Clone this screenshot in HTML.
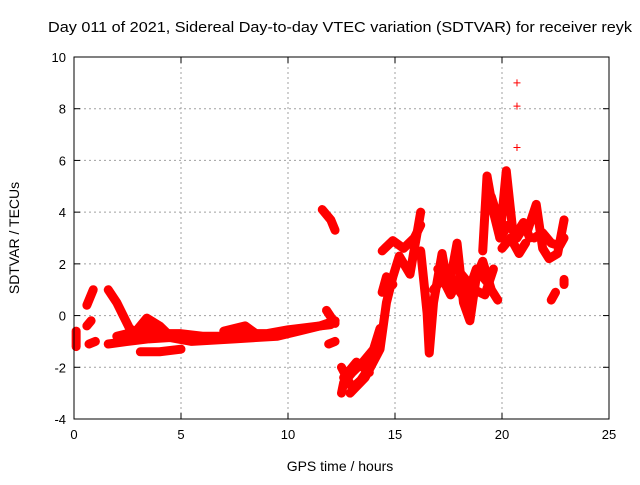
<!DOCTYPE html>
<html><head><meta charset="utf-8"><style>
body{margin:0;background:#fff}
svg text{font-family:"Liberation Sans",sans-serif;fill:#000}
</style></head><body>
<svg id="c" width="640" height="480" xmlns="http://www.w3.org/2000/svg">
<rect width="640" height="480" fill="#fff"/>
<text x="340" y="32" font-size="14.5" text-anchor="middle" textLength="584" lengthAdjust="spacingAndGlyphs">Day 011 of 2021, Sidereal Day-to-day VTEC variation (SDTVAR) for receiver reyk</text>
<text x="340" y="471" font-size="14" text-anchor="middle">GPS time / hours</text>
<text transform="translate(19,238) rotate(-90)" font-size="14" text-anchor="middle">SDTVAR / TECUs</text>
<g id="grid"></g><g id="marks"></g>
<rect x="74" y="57" width="535" height="362" fill="none" stroke="#000" stroke-width="1"/>
</svg>
<script>
const xTicks=[0,5,10,15,20,25];
const yTicks=[-4,-2,0,2,4,6,8,10];
const tracks=[
 {x:[1.6,2.5,3.5,4.5,5.5,6.5,7.5,8.5,9.5,10.5,11.5,12.2],y:[-1.1,-1.0,-0.9,-0.85,-1.0,-0.95,-0.9,-0.85,-0.8,-0.6,-0.4,-0.2]},
 {x:[2.0,3.0,4.0,5.0,6.0,7.0,8.0,9.0,10.0,11.0,12.0],y:[-0.8,-0.6,-0.7,-0.7,-0.8,-0.8,-0.7,-0.7,-0.55,-0.45,-0.35]},
 {x:[1.6,2.0,2.3,2.6,3.0,3.3,3.8,4.3,5.0],y:[1.0,0.5,0,-0.5,-0.7,-0.3,-0.5,-0.7,-0.9]},
 {x:[3.0,3.4,4.0,4.5],y:[-0.5,-0.1,-0.4,-0.8]},
 {x:[3.1,4.0,5.0],y:[-1.4,-1.4,-1.3]},
 {x:[0.1,0.1],y:[-0.6,-1.2]},
 {x:[0.6,0.9],y:[0.4,1.0]},
 {x:[0.6,0.8],y:[-0.4,-0.2]},
 {x:[0.7,1.0],y:[-1.1,-1.0]},
 {x:[7.0,8.0,8.5],y:[-0.6,-0.4,-0.7]},
 {x:[11.6,12.0,12.2],y:[4.1,3.7,3.3]},
 {x:[11.9,12.2],y:[-1.1,-1.0]},
 {x:[11.8,12.2],y:[0.2,-0.3]},
 {x:[12.5,12.6,13.0,13.5,14.0,14.3],y:[-3.0,-2.6,-2.2,-1.8,-1.3,-0.5]},
 {x:[12.5,13.0,13.4,13.9],y:[-2.0,-2.8,-2.5,-1.9]},
 {x:[12.6,13.2,13.8],y:[-2.4,-1.8,-2.2]},
 {x:[12.9,13.6,14.3,14.6,14.9,15.2,15.7,16.2],y:[-3.0,-2.4,-1.3,0.5,1.5,2.3,1.6,4.0]},
 {x:[14.4,14.9,15.4,15.9,16.2],y:[2.5,2.9,2.6,3.0,3.5]},
 {x:[14.4,14.6,14.9],y:[0.9,1.5,1.2]},
 {x:[16.2,16.5,16.6,16.8,17.2,17.5,17.9,18.2,18.5,18.8,19.1,19.5,19.8],y:[2.5,0.1,-1.45,0.5,2.4,1.0,2.8,0.5,-0.2,1.5,2.1,1.0,0.6]},
 {x:[16.8,17.3,17.8,18.3,18.8,19.3],y:[1.0,1.5,1.2,0.6,1.8,1.3]},
 {x:[17.0,17.6,18.1,18.7,19.2,19.6],y:[1.8,0.8,1.6,1.0,0.8,1.8]},
 {x:[19.1,19.3,19.6,19.9,20.2,20.5,20.7,21.0],y:[2.5,5.4,4.0,3.0,5.6,3.3,3.0,3.4]},
 {x:[19.2,19.5,19.8],y:[4.0,4.6,3.8]},
 {x:[19.9,20.3,20.7,21.0,21.3],y:[3.0,3.5,3.2,3.6,3.0]},
 {x:[20.0,20.4,20.8,21.1],y:[2.6,3.0,2.4,2.8]},
 {x:[20.7,20.7,20.7],y:[9.0,8.1,6.5]},
 {x:[21.2,21.6,21.9,22.2,22.6,22.9],y:[3.3,4.3,2.6,2.2,2.4,3.7]},
 {x:[21.5,21.9,22.3,22.7,22.9],y:[3.0,3.2,2.8,2.7,3.0]},
 {x:[22.3,22.5],y:[0.6,0.9]},
 {x:[22.9,22.9],y:[1.2,1.4]}
];
const L=74,R=609,T=57,B=419;
const sx=v=>L+(v-0)/25*(R-L), sy=v=>B-(v+4)/14*(B-T);
const NS="http://www.w3.org/2000/svg";
const svg=document.getElementById('c'),g=document.getElementById('grid'),m=document.getElementById('marks');
function mk(t,a,p){const e=document.createElementNS(NS,t);for(const k in a)e.setAttribute(k,a[k]);p.appendChild(e);return e;}
xTicks.forEach(v=>{const x=sx(v);
 if(v>0&&v<25){const l=mk('line',{x1:x,x2:x,y1:T,y2:B,stroke:'#a0a0a0','stroke-dasharray':'2,3'},g);
 
 }
 mk('line',{x1:x,x2:x,y1:B,y2:B-6,stroke:'#000'},g);mk('line',{x1:x,x2:x,y1:T,y2:T+6,stroke:'#000'},g);
 const t=mk('text',{x:x,y:B+20,'font-size':13,'text-anchor':'middle'},g);t.textContent=v;
 
 });
yTicks.forEach(v=>{const y=sy(v);
 if(v>-4&&v<10){const l=mk('line',{x1:L,x2:R,y1:y,y2:y,stroke:'#a0a0a0','stroke-dasharray':'2,3'},g);
 
 }
 mk('line',{x1:L,x2:L+6,y1:y,y2:y,stroke:'#000'},g);mk('line',{x1:R,x2:R-6,y1:y,y2:y,stroke:'#000'},g);
 const t=mk('text',{x:L-8,y:y+5,'font-size':13,'text-anchor':'end'},g);t.textContent=v;
 
 });
tracks.forEach(tr=>{
 const pts=tr.x.map((v,i)=>sx(v)+','+sy(tr.y[i])).join(' ');
 const single=tr.x.length===3&&tr.x[0]===20.7;
 if(!single){const p=mk('polyline',{points:pts,fill:'none',stroke:'#f00','stroke-width':9,'stroke-linejoin':'round','stroke-linecap':'round'},m);
 
 }
 tr.x.forEach((v,i)=>{const x=sx(v),y=sy(tr.y[i]);
  const d=mk('path',{d:`M${x-3.5},${y}h7M${x},${y-3.5}v7`,stroke:'#f00','stroke-width':1},m);
  
  });
});
</script>
</body></html>
